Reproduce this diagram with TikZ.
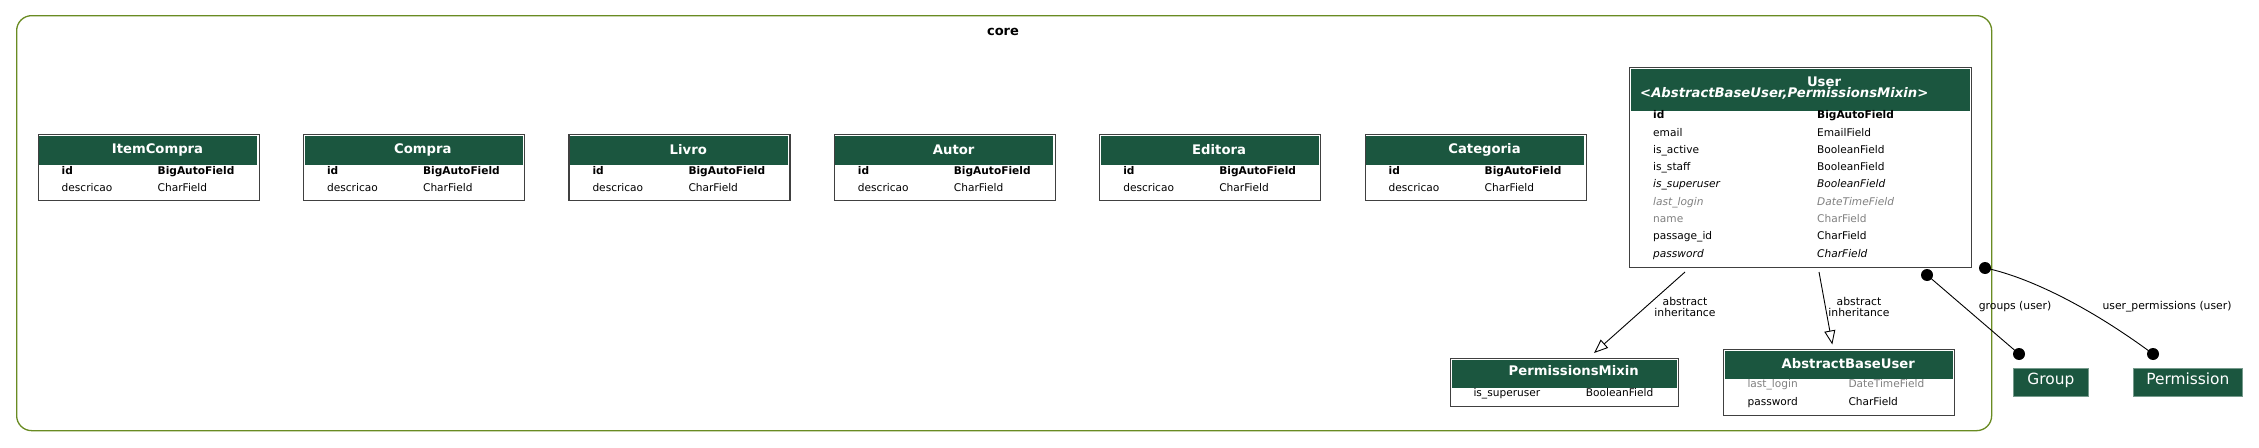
\documentclass[tikz,border=0pt]{standalone}
\usepackage{fontspec}
\setmainfont{DejaVu Sans}
\usetikzlibrary{arrows.meta}
\definecolor{hdr}{HTML}{1B563F}
\definecolor{clus}{HTML}{698B22}
\definecolor{fgray}{HTML}{808080}
\tikzset{
  tbl/.style={draw=black!75, line width=1.3pt, fill=white, rectangle, inner sep=0pt, anchor=north west},
  hdrbox/.style={fill=hdr, draw=none, rectangle, inner sep=0pt, anchor=north west},
  htext/.style={text=white, font=\fontsize{13.2}{15}\selectfont\bfseries, inner sep=0pt},
  ftext/.style={font=\fontsize{10.6}{12}\selectfont, anchor=mid west, inner sep=0pt},
  fbold/.style={ftext, font=\fontsize{10.6}{12}\selectfont\bfseries},
  fital/.style={ftext, font=\fontsize{10.6}{12}\selectfont\itshape},
  fgrayit/.style={ftext, text=fgray, font=\fontsize{10.6}{12}\selectfont\itshape},
  fgrayrm/.style={ftext, text=fgray},
  elabel/.style={font=\fontsize{10.8}{11.2}\selectfont, align=center, inner sep=0pt},
  rlabel/.style={font=\fontsize{10.8}{12}\selectfont, inner sep=0pt},
  inh/.style={line width=0.9pt, -{Triangle[open, length=14pt, width=11pt, fill=white]}},
  rel/.style={line width=0.9pt},
  dot/.style={circle, fill=black, minimum size=12pt, inner sep=0pt},
  extbox/.style={fill=hdr, draw=hdr!60!white, line width=0.6pt, rectangle, inner sep=0pt, anchor=north west, text=white, font=\fontsize{15.4}{18}\selectfont, text height=11pt, text depth=6pt},
  clusterbox/.style={draw=clus, line width=1.3pt, rounded corners=15pt, rectangle, inner sep=0pt, anchor=north west}
}
\begin{document}
\begin{tikzpicture}[x=1pt, y=-1pt]
\useasboundingbox (0,0) rectangle (2259,447);
\fill[white] (0,0) rectangle (2259,447);

% cluster
\node[clusterbox, minimum width=1975pt, minimum height=415pt] (core) at (16,15) {};
\node[font=\fontsize{13}{15}\selectfont\bfseries, inner sep=0pt] (coretitle) at (1003,32) {core};

% simple tables
\foreach \nm/\lbl/\x in {itemcompra/ItemCompra/37.5, compra/Compra/302.9, livro/Livro/568.3, autor/Autor/833.7, editora/Editora/1099.1, categoria/Categoria/1364.5} {
  \node[tbl, minimum width=221pt, minimum height=66pt] (\nm) at (\x,134) {};
  \node[hdrbox, minimum width=218pt, minimum height=29.5pt] (\nm-h) at ({\x+1.5},135.5) {};
  \node[htext] (\nm-t) at ({\x+120},149.5) {\lbl};
  \node[fbold] (\nm-f1) at ({\x+24},172) {id};
  \node[fbold] (\nm-y1) at ({\x+120},172) {BigAutoField};
  \node[ftext] (\nm-f2) at ({\x+24},188.5) {descricao};
  \node[ftext] (\nm-y2) at ({\x+120},188.5) {CharField};
}

% User table
\node[tbl, minimum width=342pt, minimum height=200pt] (user) at (1629,67) {};
\node[hdrbox, minimum width=339pt, minimum height=42pt] (user-h) at (1630.5,68.5) {};
\node[htext] (user-t1) at (1824,82) {User};
\node[htext, anchor=mid west, font=\fontsize{13.2}{15}\selectfont\bfseries\itshape] (user-t2) at (1640,95) {<AbstractBaseUser,PermissionsMixin>};
\node[fbold] (uf1) at (1653,116) {id};
\node[fbold] (uy1) at (1817,116) {BigAutoField};
\node[ftext] (uf2) at (1653,133.3) {email};
\node[ftext] (uy2) at (1817,133.3) {EmailField};
\node[ftext] (uf3) at (1653,150.6) {is\_active};
\node[ftext] (uy3) at (1817,150.6) {BooleanField};
\node[ftext] (uf4) at (1653,167.9) {is\_staff};
\node[ftext] (uy4) at (1817,167.9) {BooleanField};
\node[fital] (uf5) at (1653,185.2) {is\_superuser};
\node[fital] (uy5) at (1817,185.2) {BooleanField};
\node[fgrayit] (uf6) at (1653,202.5) {last\_login};
\node[fgrayit] (uy6) at (1817,202.5) {DateTimeField};
\node[fgrayrm] (uf7) at (1653,219.8) {name};
\node[fgrayrm] (uy7) at (1817,219.8) {CharField};
\node[ftext] (uf8) at (1653,237.1) {passage\_id};
\node[ftext] (uy8) at (1817,237.1) {CharField};
\node[fital] (uf9) at (1653,254.4) {password};
\node[fital] (uy9) at (1817,254.4) {CharField};

% PermissionsMixin
\node[tbl, minimum width=228pt, minimum height=48pt] (pmixin) at (1450,358) {};
\node[hdrbox, minimum width=225pt, minimum height=28pt] (pmixin-h) at (1451.5,359.5) {};
\node[htext] (pmixin-t) at (1573.7,371) {PermissionsMixin};
\node[ftext] (pf1) at (1473.3,393.5) {is\_superuser};
\node[ftext] (py1) at (1585.7,393.5) {BooleanField};

% AbstractBaseUser
\node[tbl, minimum width=231pt, minimum height=66pt] (abuser) at (1723,349) {};
\node[hdrbox, minimum width=228pt, minimum height=28.5pt] (abuser-h) at (1724.5,350.5) {};
\node[htext] (abuser-t) at (1848.3,363.5) {AbstractBaseUser};
\node[fgrayrm] (af1) at (1747.3,385) {last\_login};
\node[fgrayrm] (ay1) at (1848.3,385) {DateTimeField};
\node[ftext] (af2) at (1747.3,403) {password};
\node[ftext] (ay2) at (1848.3,403) {CharField};

% external models
\node[extbox, minimum width=75pt, minimum height=28pt] (group) at (2013,368) {Group};
\node[extbox, minimum width=109pt, minimum height=28pt] (permission) at (2133,368) {Permission};

% inheritance edges
\coordinate (inh1s) at (1685,272);
\coordinate (inh1e) at (1594,353);
\coordinate (inh2s) at (1819,272);
\coordinate (inh2e) at (1832.3,344.5);
\draw[inh] (inh1s) -- (inh1e);
\draw[inh] (inh2s) -- (inh2e);
\node[elabel] (inh1l) at (1685,307) {abstract\\inheritance};
\node[elabel] (inh2l) at (1859,307) {abstract\\inheritance};

% relation edges
\node[dot] (gd1) at (1927,275) {};
\node[dot] (gd2) at (2019,354) {};
\draw[rel] (gd1.center) -- (gd2.center);
\node[rlabel] (gl) at (2015,307) {groups (user)};

\node[dot] (pd1) at (1985,268) {};
\node[dot] (pd2) at (2153,354) {};
\draw[rel] (pd1.center) .. controls (2020,275) and (2080,300) .. (pd2.center);
\node[rlabel] (pl) at (2167,307) {user\_permissions (user)};
\end{tikzpicture}
\end{document}
